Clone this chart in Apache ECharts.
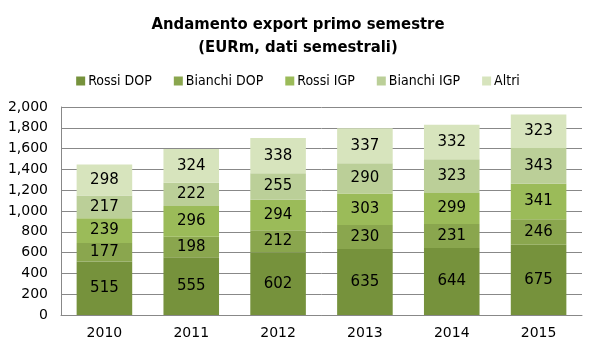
<!DOCTYPE html>
<html>
<head>
<meta charset="utf-8">
<script src="https://cdn.jsdelivr.net/npm/echarts@6/dist/echarts.min.js"></script>
<style>
  html, body { margin: 0; padding: 0; background: #fff; }
  #chart { width: 596px; height: 351px; }
</style>
</head>
<body>
<div id="chart"></div>
<script>
const years = ['2010', '2011', '2012', '2013', '2014', '2015']
const rossiDop = [515, 555, 602, 635, 644, 675]
const bianchiDop = [177, 198, 212, 230, 231, 246]
const rossiIgp = [239, 296, 294, 303, 299, 341]
const bianchiIgp = [217, 222, 255, 290, 323, 343]
const altri = [298, 324, 338, 337, 332, 323]

const seriesDefs = [
  { name: 'Rossi DOP', data: rossiDop, color: '#76923c' },
  { name: 'Bianchi DOP', data: bianchiDop, color: '#8aa64e' },
  { name: 'Rossi IGP', data: rossiIgp, color: '#9bbb59' },
  { name: 'Bianchi IGP', data: bianchiIgp, color: '#bbcf98' },
  { name: 'Altri', data: altri, color: '#d7e4bd' }
]

const narrow = '"DejaVu Sans Condensed", "Liberation Sans Narrow", "Liberation Sans", sans-serif'

const chart = echarts.init(document.getElementById('chart'))
chart.setOption({
  animation: false,
  title: {
    text: 'Andamento export primo semestre\n(EURm, dati semestrali)',
    left: 'center',
    top: 8,
    textStyle: {
      fontFamily: narrow,
      fontWeight: 'bold',
      fontSize: 16.5,
      lineHeight: 23,
      color: '#000'
    }
  },
  legend: {
    top: 69,
    left: 'center',
    itemWidth: 9,
    itemHeight: 9,
    itemGap: 22,
    icon: 'rect',
    textStyle: { fontFamily: narrow, fontSize: 14, color: '#000', padding: [0, 0, 0, -2] },
    data: seriesDefs.map(s => s.name)
  },
  grid: { left: 61, right: 14, top: 107, bottom: 36 },
  xAxis: {
    type: 'category',
    data: years,
    axisLine: { lineStyle: { color: '#888' } },
    axisTick: { show: false },
    axisLabel: { fontFamily: 'DejaVu Sans', fontSize: 14, color: '#000', margin: 11 }
  },
  yAxis: {
    type: 'value',
    min: 0,
    max: 2000,
    interval: 200,
    axisLine: { show: true, lineStyle: { color: '#888' } },
    axisTick: { show: false },
    splitLine: { lineStyle: { color: '#888' } },
    axisLabel: {
      fontFamily: 'DejaVu Sans',
      fontSize: 14,
      color: '#000',
      margin: 13,
      formatter: v => v.toLocaleString('en-US')
    }
  },
  series: seriesDefs.map(s => ({
    name: s.name,
    type: 'bar',
    stack: 'total',
    barWidth: '64%',
    data: s.data,
    itemStyle: { color: s.color },
    label: {
      show: true,
      position: 'inside',
      fontFamily: 'DejaVu Sans',
      fontSize: 15,
      color: '#000'
    }
  }))
})
</script>
</body>
</html>
